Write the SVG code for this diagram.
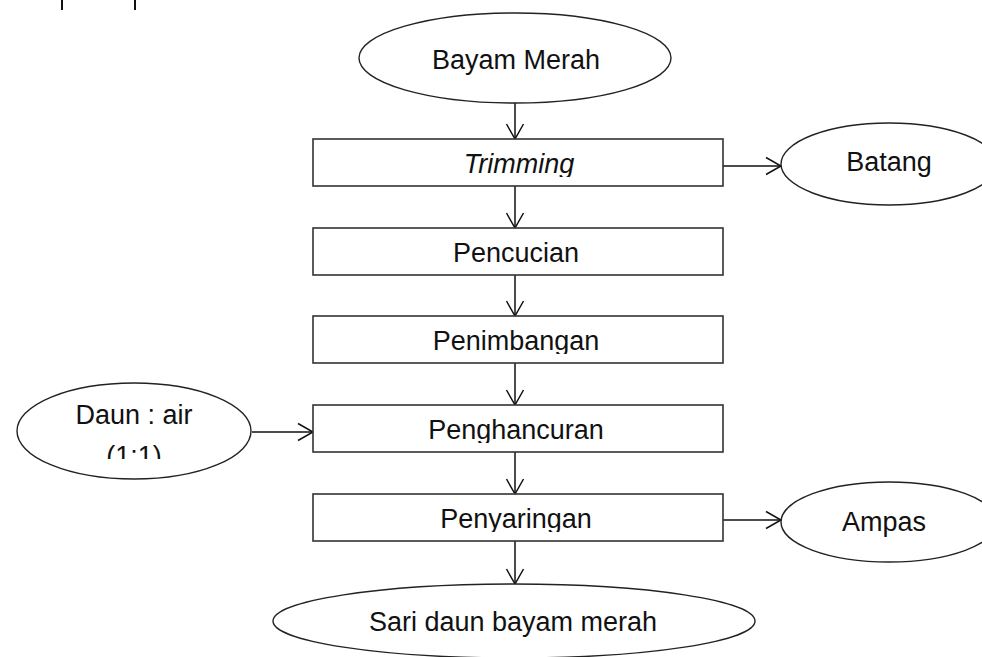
<svg xmlns="http://www.w3.org/2000/svg" width="982" height="657" viewBox="0 0 982 657">
<style>
.box{fill:#fff;stroke:#333;stroke-width:1.6}
.ell{fill:#fff;stroke:#222;stroke-width:1.4}
.t{font-family:"Liberation Sans",Arial,sans-serif;font-size:27px;fill:#111;text-anchor:middle}
.c{fill:none;stroke:#111;stroke-width:1.5}
</style>
<defs>
<marker id="ah" viewBox="0 0 20 20" refX="17" refY="10" markerWidth="20" markerHeight="20" markerUnits="userSpaceOnUse" orient="auto">
<path d="M2 1.5 L17 10 L2 18.5" fill="none" stroke="#111" stroke-width="1.5"/>
</marker>
<clipPath id="clipTrim"><rect x="300" y="139" width="430" height="38"/></clipPath>
<clipPath id="clipPenim"><rect x="300" y="316" width="430" height="38"/></clipPath>
<clipPath id="clipPengh"><rect x="300" y="405" width="430" height="38"/></clipPath>
<clipPath id="clipPeny"><rect x="300" y="494" width="430" height="38"/></clipPath>
<clipPath id="clipDaun"><rect x="0" y="380" width="260" height="79"/></clipPath>
</defs>
<rect width="982" height="657" fill="#fff"/>
<g id="fragments">
<line x1="62" y1="0" x2="62" y2="10" stroke="#111" stroke-width="2"/>
<line x1="135" y1="0" x2="135" y2="10" stroke="#111" stroke-width="2"/>
</g>
<g id="connectors">
<line class="c" x1="515" y1="103" x2="515" y2="139" marker-end="url(#ah)"/>
<line class="c" x1="515" y1="186" x2="515" y2="228" marker-end="url(#ah)"/>
<line class="c" x1="515" y1="275" x2="515" y2="316" marker-end="url(#ah)"/>
<line class="c" x1="515" y1="363" x2="515" y2="405" marker-end="url(#ah)"/>
<line class="c" x1="515" y1="452" x2="515" y2="494" marker-end="url(#ah)"/>
<line class="c" x1="515" y1="541" x2="515" y2="584" marker-end="url(#ah)"/>
<line class="c" x1="723" y1="166" x2="781" y2="166" marker-end="url(#ah)"/>
<line class="c" x1="252" y1="432" x2="313" y2="432" marker-end="url(#ah)"/>
<line class="c" x1="723" y1="520" x2="781" y2="520" marker-end="url(#ah)"/>
</g>
<g id="n-bayam">
<ellipse class="ell" cx="515" cy="58" rx="156" ry="45"/>
<text class="t" x="516" y="69">Bayam Merah</text>
</g>
<g id="n-trimming">
<rect class="box" x="313" y="139" width="410" height="47"/>
<text class="t" x="519" y="173" font-style="italic" clip-path="url(#clipTrim)">Trimming</text>
</g>
<g id="n-batang">
<ellipse class="ell" cx="889" cy="164" rx="108" ry="41"/>
<text class="t" x="889" y="171">Batang</text>
</g>
<g id="n-pencucian">
<rect class="box" x="313" y="228" width="410" height="47"/>
<text class="t" x="516" y="262">Pencucian</text>
</g>
<g id="n-penimbangan">
<rect class="box" x="313" y="316" width="410" height="47"/>
<text class="t" x="516" y="350" clip-path="url(#clipPenim)">Penimbangan</text>
</g>
<g id="n-daun">
<ellipse class="ell" cx="134" cy="431" rx="117" ry="48"/>
<text class="t" x="134" y="424">Daun : air</text>
<text class="t" x="134" y="465" clip-path="url(#clipDaun)">(1:1)</text>
</g>
<g id="n-penghancuran">
<rect class="box" x="313" y="405" width="410" height="47"/>
<text class="t" x="516" y="439" clip-path="url(#clipPengh)">Penghancuran</text>
</g>
<g id="n-penyaringan">
<rect class="box" x="313" y="494" width="410" height="47"/>
<text class="t" x="516" y="528" clip-path="url(#clipPeny)">Penyaringan</text>
</g>
<g id="n-ampas">
<ellipse class="ell" cx="889" cy="522" rx="108" ry="40"/>
<text class="t" x="884" y="531">Ampas</text>
</g>
<g id="n-sari">
<ellipse class="ell" cx="514" cy="621" rx="241" ry="37"/>
<text class="t" x="513" y="631">Sari daun bayam merah</text>
</g>
</svg>
